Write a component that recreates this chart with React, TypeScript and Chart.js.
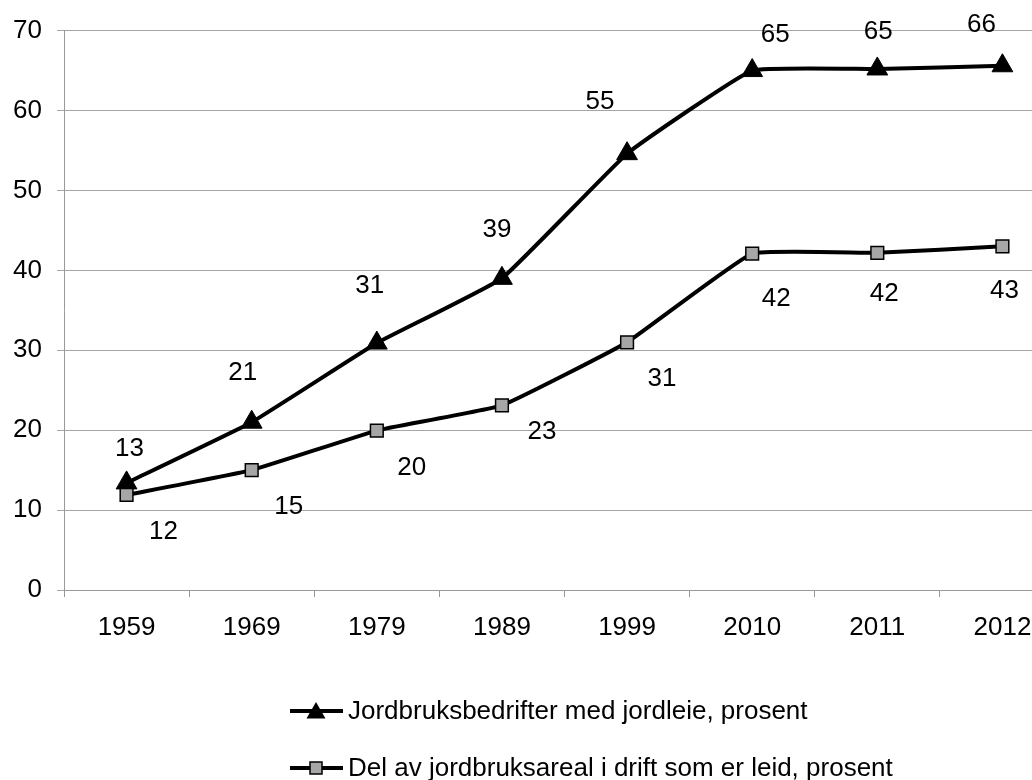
import React, { useEffect, useRef } from "react";
import { Chart, registerables } from "chart.js";

Chart.register(...registerables);

// ---- data ----
const years = ["1959", "1969", "1979", "1989", "1999", "2010", "2011", "2012"];
const farmsWithLease = [13.4, 21.0, 30.9, 39.0, 54.6, 65.0, 65.2, 65.6];
const leasedAreaShare = [11.9, 15.0, 19.95, 23.1, 31.0, 42.1, 42.2, 43.0];
const yMin = 0;
const yMax = 70;
const yStep = 10;
const seriesNames = [
  "Jordbruksbedrifter med jordleie, prosent",
  "Del av jordbruksareal i drift som er leid, prosent",
];

// ---- label placement (style: offsets from each point, px) ----
const farmsLabelOffsets = [[3, -34], [-9, -49], [-7, -57], [-5, -49], [-27, -52], [23, -36], [1, -37], [-21, -41]];
const areaLabelOffsets = [[37, 37], [37, 37], [35, 37], [40, 26], [35, 37], [24, 45], [7, 41], [2, 44]];

const FONT = '"Liberation Sans", Arial, sans-serif';
const FONT_SIZE = 26;
const GRID = "#a6a6a6";
const AXIS = "#999999";
const SQUARE_FILL = "#a6a6a6";

const dataLabelPlugin = {
  id: "dataLabels",
  afterDatasetsDraw(chart: any) {
    const ctx = chart.ctx;
    ctx.save();
    ctx.font = `${FONT_SIZE}px ${FONT}`;
    ctx.fillStyle = "#000";
    ctx.textAlign = "center";
    ctx.textBaseline = "middle";
    chart.data.datasets.forEach((ds: any, i: number) => {
      const meta = chart.getDatasetMeta(i);
      const offs = ds.labelOffsets as number[][];
      meta.data.forEach((pt: any, j: number) => {
        const v = ds.data[j] as number;
        const [dx, dy] = offs[j];
        ctx.fillText(String(Math.round(v)), pt.x + dx, pt.y + dy);
      });
    });
    ctx.restore();
  },
};

function drawTriangle(ctx: CanvasRenderingContext2D, x: number, y: number, r: number) {
  ctx.beginPath();
  ctx.moveTo(x, y - r);
  ctx.lineTo(x + r * 0.866, y + r * 0.5);
  ctx.lineTo(x - r * 0.866, y + r * 0.5);
  ctx.closePath();
  ctx.fillStyle = "#000";
  ctx.fill();
}

function drawSquare(ctx: CanvasRenderingContext2D, x: number, y: number, s: number) {
  ctx.fillStyle = SQUARE_FILL;
  ctx.fillRect(x - s / 2, y - s / 2, s, s);
  ctx.lineWidth = 1.5;
  ctx.strokeStyle = "#000";
  ctx.strokeRect(x - s / 2, y - s / 2, s, s);
}

const legendPlugin = {
  id: "stackedLegend",
  afterDraw(chart: any) {
    const ctx = chart.ctx as CanvasRenderingContext2D;
    const x0 = 290;
    const x1 = 343;
    const xm = (x0 + x1) / 2 - 0.5;
    const textX = 348;
    const rows = [711, 768];
    ctx.save();
    rows.forEach((y, i) => {
      ctx.strokeStyle = "#000";
      ctx.lineWidth = 4;
      ctx.beginPath();
      ctx.moveTo(x0, y);
      ctx.lineTo(x1, y);
      ctx.stroke();
      if (i === 0) drawTriangle(ctx, xm, y + 2, 11);
      else drawSquare(ctx, xm, y, 12);
      ctx.fillStyle = "#000";
      ctx.font = `26px ${FONT}`;
      ctx.textAlign = "left";
      ctx.textBaseline = "middle";
      ctx.fillText(seriesNames[i], textX, y + 1);
    });
    ctx.restore();
  },
};

export default function App() {
  const canvasRef = useRef<HTMLCanvasElement | null>(null);

  useEffect(() => {
    const canvas = canvasRef.current;
    if (!canvas) return;
    const chart = new Chart(canvas, {
      type: "line",
      data: {
        labels: years,
        datasets: [
          {
            label: seriesNames[0],
            data: farmsWithLease,
            borderColor: "#000",
            borderWidth: 4,
            tension: 0.1,
            pointStyle: "triangle",
            pointRadius: 12,
            pointBackgroundColor: "#000",
            pointBorderColor: "#000",
            pointBorderWidth: 1,
            order: 2,
            labelOffsets: farmsLabelOffsets,
          } as any,
          {
            label: seriesNames[1],
            data: leasedAreaShare,
            borderColor: "#000",
            borderWidth: 4,
            tension: 0.1,
            pointStyle: "rect",
            pointRadius: 9,
            pointBackgroundColor: SQUARE_FILL,
            pointBorderColor: "#000",
            pointBorderWidth: 1.5,
            order: 1,
            labelOffsets: areaLabelOffsets,
          } as any,
        ],
      },
      options: {
        responsive: false,
        animation: false,
        layout: { padding: { top: 30, left: 0, right: 2, bottom: 120 } },
        plugins: {
          legend: { display: false },
          tooltip: { enabled: false },
        },
        scales: {
          x: {
            offset: true,
            grid: {
              offset: true,
              drawOnChartArea: false,
              drawTicks: true,
              tickLength: 7,
              color: AXIS,
            },
            border: { color: AXIS, width: 1 },
            ticks: {
              color: "#000",
              font: { family: FONT, size: FONT_SIZE },
              padding: 15,
              maxRotation: 0,
              autoSkip: false,
            },
            afterFit(scale: any) {
              scale.height = 70;
            },
          },
          y: {
            min: yMin,
            max: yMax,
            grid: {
              color: GRID,
              tickLength: 7,
              drawTicks: true,
            },
            border: { color: AXIS, width: 1 },
            ticks: {
              stepSize: yStep,
              color: "#000",
              font: { family: FONT, size: FONT_SIZE },
              padding: 15,
            },
            afterFit(scale: any) {
              scale.width = 64;
            },
          },
        },
      },
      plugins: [dataLabelPlugin, legendPlugin],
    });
    return () => chart.destroy();
  }, []);

  return (
    <div
      style={{
        position: "fixed",
        left: 0,
        top: 0,
        width: 1032,
        height: 780,
        overflow: "hidden",
        background: "#fff",
      }}
    >
      <canvas ref={canvasRef} width={1078} height={780} style={{ width: 1078, height: 780, display: "block" }} />
    </div>
  );
}
